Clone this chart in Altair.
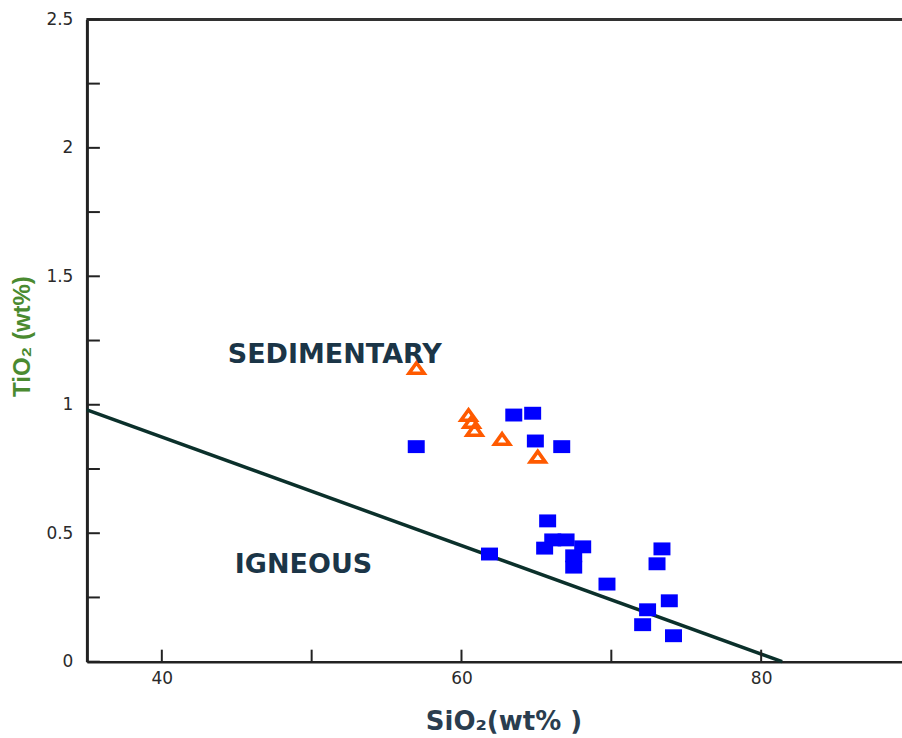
import altair as alt
import pandas as pd

# Data
igneous_x = [56.98, 63.49, 64.75, 64.93, 66.69, 65.75, 61.87, 66.09, 66.98, 65.55,
             68.09, 67.49, 67.49, 69.71, 73.38, 73.05, 73.87, 72.42, 72.09, 74.15]
igneous_y = [0.837, 0.960, 0.967, 0.859, 0.837, 0.548, 0.419, 0.474, 0.474, 0.442,
             0.447, 0.412, 0.368, 0.302, 0.439, 0.381, 0.237, 0.202, 0.144, 0.101]
sed_x = [57.0, 60.47, 60.67, 60.87, 62.71, 65.09]
sed_y = [1.143, 0.960, 0.933, 0.902, 0.867, 0.798]

line_x = [35.0, 81.4]
line_y = [0.98, 0.0]

label_text = ["SEDIMENTARY", "IGNEOUS"]
label_x = [44.4, 44.87]
label_y = [1.194, 0.377]

y_tick_values = [0, 0.25, 0.5, 0.75, 1.0, 1.25, 1.5, 1.75, 2.0, 2.25, 2.5]
y_label_values = [0, 0.5, 1.0, 1.5, 2.0, 2.5]
x_tick_values = [40, 50, 60, 70, 80]
x_label_values = [40, 60, 80]

W, H = 816, 643
XMIN, XMAX = 35.0, 35.0 + 816 / 15.0

df_ign = pd.DataFrame({"x": igneous_x, "y": igneous_y})
df_sed = pd.DataFrame({"x": sed_x, "y": sed_y})
df_line = pd.DataFrame({"x": line_x, "y": line_y})
df_lab = pd.DataFrame({"t": label_text, "x": label_x, "y": label_y})
df_yt = pd.DataFrame({"y": y_tick_values})
df_xt = pd.DataFrame({"x": x_tick_values})

xscale = alt.Scale(domain=[XMIN, XMAX], nice=False, zero=False)
yscale = alt.Scale(domain=[0, 2.5], nice=False)

xaxis = alt.Axis(values=x_label_values, format="~g", ticks=False, tickSize=0, domain=True,
                 domainColor="#222222", domainWidth=2.5,
                 grid=False, labelPadding=9, labelFontSize=17, labelFont="DejaVu Sans",
                 labelColor="#2a2a2a", title="SiO₂(wt% )", titleFont="DejaVu Sans",
                 titleFontSize=26, titleFontWeight="bold", titleColor="#2a3d4f",
                 titleX=417, titleY=60, titleBaseline="middle", titleAlign="center")
yaxis = alt.Axis(values=y_label_values, format="~g", ticks=False, tickSize=0, domain=True,
                 domainColor="#222222", domainWidth=3,
                 grid=False, labelPadding=14, labelFontSize=17, labelFont="DejaVu Sans",
                 labelColor="#2a2a2a", title="TiO₂ (wt%)", titleFont="Liberation Sans",
                 titleFontSize=24, titleFontWeight="bold", titleColor="#4a8a30",
                 titleX=-64, titleY=317, titleBaseline="middle", titleAlign="center",
                 titleAngle=270)

base_line = alt.Chart(df_line).mark_line(color="#0b302b", strokeWidth=3.5).encode(
    x=alt.X("x:Q", scale=xscale, axis=xaxis),
    y=alt.Y("y:Q", scale=yscale, axis=yaxis),
)

squares = alt.Chart(df_ign).mark_point(
    shape="M-1,-0.76H1V0.76H-1Z", filled=True, size=289, color="#0000ff", opacity=1
).encode(x="x:Q", y="y:Q")

triangles = alt.Chart(df_sed).mark_point(
    shape="M0,-0.7L1,0.7L-1,0.7Z", filled=False, size=225, color="#ff5a00",
    strokeWidth=3.6, opacity=1
).encode(x="x:Q", y="y:Q")

labels = alt.Chart(df_lab).mark_text(
    align="left", baseline="middle", font="DejaVu Sans", fontSize=27,
    fontWeight="bold", color="#1b3547"
).encode(x="x:Q", y="y:Q", text="t:N")

yticks = alt.Chart(df_yt).mark_rule(color="#222", strokeWidth=2).encode(
    y="y:Q", x=alt.value(0), x2=alt.value(13)
)
xticks = alt.Chart(df_xt).mark_rule(color="#222", strokeWidth=2).encode(
    x="x:Q", y=alt.value(H), y2=alt.value(H - 12)
)
top_border = alt.Chart(df_yt).mark_rule(color="#333333", strokeWidth=2.2).encode(
    y=alt.value(0), x=alt.value(0), x2=alt.value(W)
)

chart = alt.layer(top_border, base_line, yticks, xticks, squares, triangles, labels).properties(
    width=W, height=H,
    autosize=alt.AutoSizeParams(type="none"),
    padding={"left": 87, "top": 19, "right": 0, "bottom": 76},
    background="white",
).configure_view(strokeWidth=0, stroke="transparent")

chart.save("out.html", embed_options={"renderer": "svg", "actions": False})
